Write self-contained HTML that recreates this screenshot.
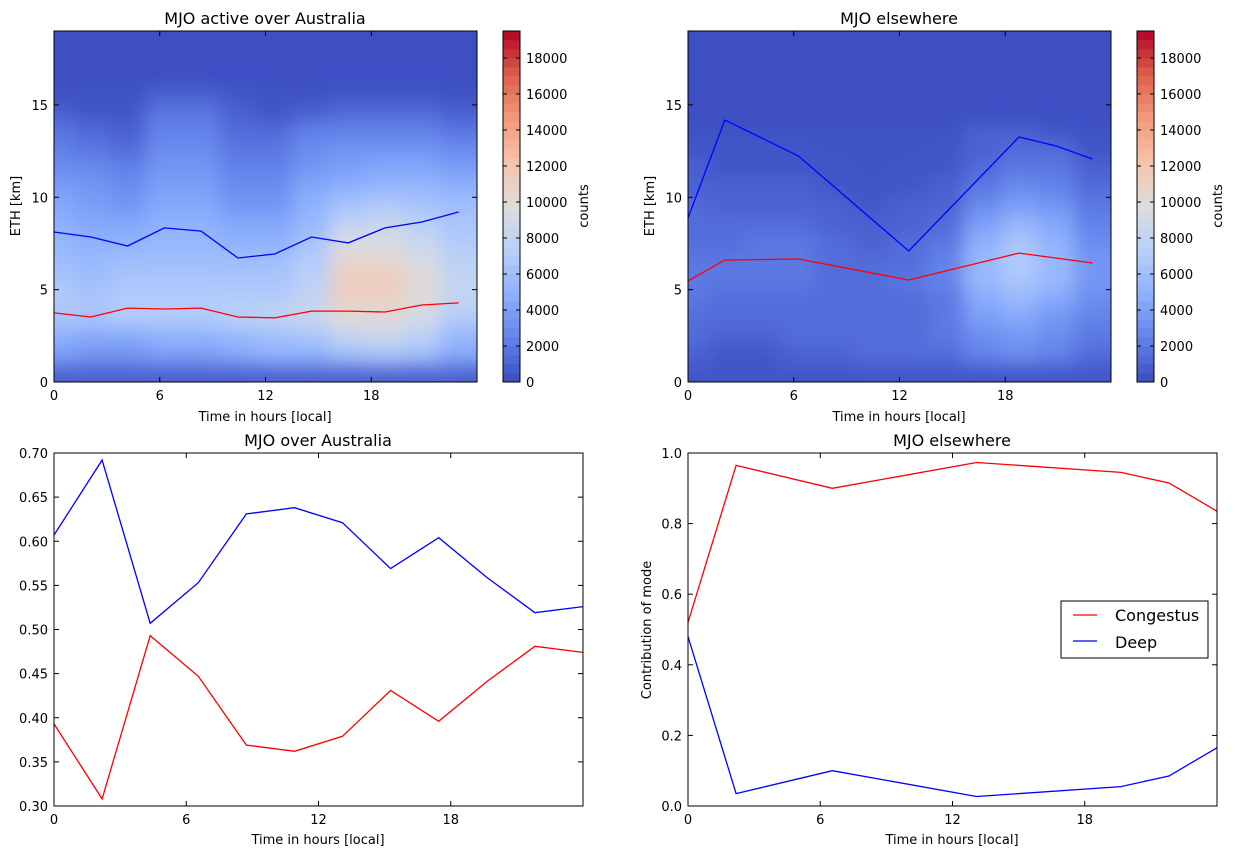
<!DOCTYPE html>
<html><head><meta charset="utf-8">
<style>
body{margin:0;background:#fff;}
svg{display:block;font-family:"DejaVu Sans","Liberation Sans",sans-serif;}
</style></head>
<body>
<svg id="fig" width="1235" height="856" viewBox="0 0 1235 856">
<defs>
<filter id="blur" x="-10%" y="-10%" width="120%" height="120%"><feGaussianBlur stdDeviation="9"/></filter>
<clipPath id="clipL"><rect x="54" y="31" width="423" height="351"/></clipPath>
<clipPath id="clipR"><rect x="688" y="31" width="423" height="351"/></clipPath>
</defs>
</svg>
<script>
// ---- data ----
const hoursTop = [0,2,4,6,8,10,12,14,16,18,20,22];
const ausDeepETH = [8.12,7.85,7.36,8.34,8.17,6.71,6.93,7.85,7.53,8.34,8.66,9.2];
const ausCongETH = [3.74,3.52,4.0,3.95,4.0,3.52,3.47,3.84,3.84,3.79,4.17,4.28];
const elseHours = [0,2,6,12,18,20,22];
const elseDeepETH = [8.88,14.18,12.24,7.09,13.26,12.78,12.07];
const elseCongETH = [5.47,6.6,6.66,5.52,6.98,6.71,6.44];
const ausDeepFrac = [0.607,0.692,0.507,0.553,0.631,0.638,0.621,0.569,0.604,0.559,0.519,0.526];
const ausCongFrac = [0.393,0.308,0.493,0.447,0.369,0.362,0.379,0.431,0.396,0.441,0.481,0.474];
const elseCongFrac = [0.52,0.965,0.90,0.973,0.945,0.915,0.835];
const elseDeepFrac = [0.48,0.035,0.10,0.027,0.055,0.085,0.165];
const hourTickLabels = ["0","6","12","18"];
const ethTicks = [0,5,10,15];
const cbTicks = [0,2000,4000,6000,8000,10000,12000,14000,16000,18000];
const fracTicksL = [0.30,0.35,0.40,0.45,0.50,0.55,0.60,0.65,0.70];
const fracTicksR = [0.0,0.2,0.4,0.6,0.8,1.0];
// counts in thousands, rows bottom (0-1 km) to top
const ausCounts = [
[1,1,1,1,1,1,1,1,1,1,1,1],
[4,3.5,3.5,4,4,4.5,5,5,6,6.5,6,4.5],
[5,4.5,4.5,5,5,5.5,6,6.5,8,8.5,7.5,5.5],
[6.5,6.5,7,7,7,7.5,8,8.5,10,10,9,7],
[7,6.5,7,7,7,7,7,8,11,11,10,8],
[6.5,6,6.5,6.5,6.5,6.5,6.5,7.5,11.5,11.5,10,8],
[6,5.5,6,6,6,6,6,7,10.5,10.5,9.5,7.5],
[5.5,5,5,5.5,5.5,5,5,6.5,9.5,9.5,8.5,7],
[5,4.5,4.5,5,5,4.5,4.5,5.5,8,8.5,7.5,6.5],
[4.5,4,3.5,4.5,4.5,3.5,3.5,5,6.5,7,6.5,6],
[4,3.5,3,4,4,3,3,4.5,5,5.5,5.5,5],
[3,3,2.5,3.5,3.5,2.5,2.5,3.5,4,4.5,4.5,4],
[2.5,2,1.5,3,3,2,2,3,3.5,3.5,3.5,3],
[2,1.5,1,2.5,2.5,1.5,1.5,2.5,2.5,2.5,2.5,2],
[1,0.5,0.5,2,2,1,0.5,1,1.5,1.5,1.5,1],
[0.3,0.3,0.3,1,1,0.5,0.3,0.3,0.5,0.5,0.5,0.3],
[0.2,0.2,0.2,0.2,0.2,0.2,0.2,0.2,0.2,0.2,0.2,0.2],
[0.2,0.2,0.2,0.2,0.2,0.2,0.2,0.2,0.2,0.2,0.2,0.2],
[0.2,0.2,0.2,0.2,0.2,0.2,0.2,0.2,0.2,0.2,0.2,0.2]];
const elseCounts = [
[0.5,0.5,0.5,0.5,0.5,0.5,0.5,0.5,0.5,0.5,0.5,0.5],
[1,0.5,0.5,1,1,1.5,1.5,1.5,2.5,3,2.5,1.5],
[1.5,1,1,1.5,1.5,1.5,1.5,2,3,3.5,3,2],
[1.5,1.5,1.5,1.5,1.5,1.5,1.5,2,4,4.5,3.5,2.5],
[2,1.5,1.5,1.5,1.5,1.5,1.5,2,4.5,5.5,4.5,3],
[2,2,2,2,1.5,1.5,2,2.5,5.5,6.5,5.5,3.5],
[2,2,2,2,1.5,1.5,1.5,2.5,5.5,7,5.5,3.5],
[1.5,1.5,2,2,1.5,1,1.5,2,5,6.5,5,3],
[1.5,1.5,1.5,1.5,1,1,1,1.5,4,5.5,4.5,2.5],
[1.5,1,1,1,1,0.5,1,1,3,4,3.5,2],
[1,1,1,1,0.5,0.5,0.5,1,2,3,2.5,1.5],
[1,0.5,0.5,0.5,0.5,0.3,0.5,0.5,1.5,2,2,1],
[0.5,0.5,0.5,0.5,0.3,0.3,0.3,0.5,1,1.5,1.5,0.5],
[0.3,0.3,0.3,0.3,0.3,0.3,0.3,0.3,1,1,0.5,0.3],
[0.2,0.2,0.2,0.2,0.2,0.2,0.2,0.2,0.2,0.2,0.2,0.2],
[0.2,0.2,0.2,0.2,0.2,0.2,0.2,0.2,0.2,0.2,0.2,0.2],
[0.2,0.2,0.2,0.2,0.2,0.2,0.2,0.2,0.2,0.2,0.2,0.2],
[0.2,0.2,0.2,0.2,0.2,0.2,0.2,0.2,0.2,0.2,0.2,0.2],
[0.2,0.2,0.2,0.2,0.2,0.2,0.2,0.2,0.2,0.2,0.2,0.2]];

// ---- helpers ----
const NS="http://www.w3.org/2000/svg";
const svg=document.getElementById('fig');
function mk(tag,attrs,parent){const e=document.createElementNS(NS,tag);for(const k in attrs)e.setAttribute(k,attrs[k]);(parent||svg).appendChild(e);return e;}
const cmapStops=[[59,76,192],[98,130,234],[141,176,254],[184,208,249],[221,221,221],[245,196,173],[244,154,123],[222,96,77],[180,4,38]];
function cmap(t){t=Math.max(0,Math.min(1,t));const p=t*8;const i=Math.min(7,Math.floor(p));const f=p-i;const a=cmapStops[i],b=cmapStops[i+1];
return `rgb(${Math.round(a[0]+(b[0]-a[0])*f)},${Math.round(a[1]+(b[1]-a[1])*f)},${Math.round(a[2]+(b[2]-a[2])*f)})`;}
const CMAX=19500;

function text(x,y,s,opt,name){const t=mk('text',Object.assign({x:x,y:y,'font-size':13,fill:'#000'},opt||{}));t.textContent=s;

return t;}

function axesFrame(ax,name){
const r=mk('rect',{x:ax.x0,y:ax.y0,width:ax.x1-ax.x0,height:ax.y1-ax.y0,fill:'none',stroke:'#000','stroke-width':1});

}

function hourTicks(ax,xs){ // xs: tick data positions
xs.forEach((v,i)=>{const x=ax.sx(v);
mk('line',{x1:x,x2:x,y1:ax.y1,y2:ax.y1-5,stroke:'#000'});
mk('line',{x1:x,x2:x,y1:ax.y0,y2:ax.y0+5,stroke:'#000'});
text(x,ax.y1+18,hourTickLabels[i],{'text-anchor':'middle'},'x-tick-label');});}
function yTicks(ax,vals,fmt){vals.forEach(v=>{const y=ax.sy(v);
mk('line',{x1:ax.x0,x2:ax.x0+5,y1:y,y2:y,stroke:'#000'});
mk('line',{x1:ax.x1,x2:ax.x1-5,y1:y,y2:y,stroke:'#000'});
text(ax.x0-6,y+5,fmt(v),{'text-anchor':'end'},'y-tick-label');});}

function line(ax,xs,ys,color,name){const d=xs.map((x,i)=>(i?'L':'M')+ax.sx(x).toFixed(1)+','+ax.sy(ys[i]).toFixed(1)).join('');
const p=mk('path',{d:d,fill:'none',stroke:color,'stroke-width':1.3});

return p;}

function heatPanel(ax,counts,clip,name){
const g=mk('g',{'clip-path':`url(#${clip})`});


mk('rect',{x:ax.x0,y:ax.y0,width:ax.x1-ax.x0,height:ax.y1-ax.y0,fill:cmap(0.01)},g);
const inner=mk('g',{filter:'url(#blur)'},g);
const nr=counts.length,nc=hoursTop.length;
for(let r=0;r<nr;r++)for(let c=0;c<nc;c++){
 let xa=ax.sx(hoursTop[c]-1),xb=ax.sx(hoursTop[c]+1);
 if(c===0)xa-=30; if(c===nc-1)xb+=30;
 let ya=ax.sy(r+1),yb=ax.sy(r);
 if(r===nr-1)ya-=30;
 if(r===0)yb+=30;
 const cell=mk('rect',{x:xa,y:ya,width:xb-xa+0.5,height:yb-ya+0.5,fill:cmap(counts[r][c]*1000/CMAX)},inner);
 
 
}}

function colorbar(x0,name){
const y0=31,y1=382,w=17;const sy=v=>y1-(v/CMAX)*(y1-y0);
const g=mk('g',{});


for(let v=0;v<CMAX;v+=500){mk('rect',{x:x0,y:sy(v+500),width:w,height:sy(v)-sy(v+500)+0.4,fill:cmap((v+250)/CMAX)},g);}
mk('rect',{x:x0,y:y0,width:w,height:y1-y0,fill:'none',stroke:'#000'},g);
cbTicks.forEach(v=>{const y=sy(v);mk('line',{x1:x0+w,x2:x0+w-4,y1:y,y2:y,stroke:'#000'},g);mk('line',{x1:x0,x2:x0+4,y1:y,y2:y,stroke:'#000'},g);
text(x0+w+6,y+5,String(v),{},'colorbar-tick-label');});
text(0,0,'counts',{transform:`translate(${x0+w+68},206) rotate(-90)`,'text-anchor':'middle'},'colorbar-label');}

// ---- top-left ----
const axTL={x0:54,x1:477,y0:31,y1:382};axTL.sx=v=>axTL.x0+v/23*(axTL.x1-axTL.x0);axTL.sy=v=>axTL.y1-v/19*(axTL.y1-axTL.y0);
heatPanel(axTL,ausCounts,'clipL','heatmap-australia');
line(axTL,hoursTop,ausDeepETH,'#0000ff','deep-eth-line-australia');
line(axTL,hoursTop,ausCongETH,'#ff0000','congestus-eth-line-australia');
axesFrame(axTL,'axes-top-left');
hourTicks(axTL,[0,5.75,11.5,17.25]);
yTicks(axTL,ethTicks,v=>String(v));
text(265,24,'MJO active over Australia',{'font-size':16,'text-anchor':'middle'},'title-top-left');
text(265,421,'Time in hours [local]',{'text-anchor':'middle'},'x-axis-title-top-left');
text(0,0,'ETH [km]',{transform:'translate(20,206) rotate(-90)','text-anchor':'middle'},'y-axis-title-top-left');
colorbar(503,'colorbar-left');

// ---- top-right ----
const axTR={x0:688,x1:1111,y0:31,y1:382};axTR.sx=v=>axTR.x0+v/23*(axTR.x1-axTR.x0);axTR.sy=v=>axTR.y1-v/19*(axTR.y1-axTR.y0);
heatPanel(axTR,elseCounts,'clipR','heatmap-elsewhere');
line(axTR,elseHours,elseDeepETH,'#0000ff','deep-eth-line-elsewhere');
line(axTR,elseHours,elseCongETH,'#ff0000','congestus-eth-line-elsewhere');
axesFrame(axTR,'axes-top-right');
hourTicks(axTR,[0,5.75,11.5,17.25]);
yTicks(axTR,ethTicks,v=>String(v));
text(899,24,'MJO elsewhere',{'font-size':16,'text-anchor':'middle'},'title-top-right');
text(899,421,'Time in hours [local]',{'text-anchor':'middle'},'x-axis-title-top-right');
text(0,0,'ETH [km]',{transform:'translate(654,206) rotate(-90)','text-anchor':'middle'},'y-axis-title-top-right');
colorbar(1137,'colorbar-right');

// ---- bottom-left ----
const axBL={x0:54,x1:583,y0:453,y1:806};axBL.sx=v=>axBL.x0+v/22*(axBL.x1-axBL.x0);axBL.sy=v=>axBL.y1-(v-0.3)/0.4*(axBL.y1-axBL.y0);
line(axBL,hoursTop,ausDeepFrac,'#0000ff','deep-fraction-line-australia');
line(axBL,hoursTop,ausCongFrac,'#ff0000','congestus-fraction-line-australia');
axesFrame(axBL,'axes-bottom-left');
hourTicks(axBL,[0,5.5,11,16.5]);
yTicks(axBL,fracTicksL,v=>v.toFixed(2));
text(318,446,'MJO over Australia',{'font-size':16,'text-anchor':'middle'},'title-bottom-left');
text(318,844,'Time in hours [local]',{'text-anchor':'middle'},'x-axis-title-bottom-left');

// ---- bottom-right ----
const axBR={x0:688,x1:1217,y0:453,y1:806};axBR.sx=v=>axBR.x0+v/22*(axBR.x1-axBR.x0);axBR.sy=v=>axBR.y1-v*(axBR.y1-axBR.y0);
line(axBR,elseHours,elseCongFrac,'#ff0000','congestus-fraction-line-elsewhere');
line(axBR,elseHours,elseDeepFrac,'#0000ff','deep-fraction-line-elsewhere');
axesFrame(axBR,'axes-bottom-right');
hourTicks(axBR,[0,5.5,11,16.5]);
yTicks(axBR,fracTicksR,v=>v.toFixed(1));
text(952,446,'MJO elsewhere',{'font-size':16,'text-anchor':'middle'},'title-bottom-right');
text(952,844,'Time in hours [local]',{'text-anchor':'middle'},'x-axis-title-bottom-right');
text(0,0,'Contribution of mode',{transform:'translate(651,630) rotate(-90)','text-anchor':'middle'},'y-axis-title-bottom-right');

// legend
const lg=mk('g',{});


mk('rect',{x:1061,y:601,width:147,height:57,fill:'#fff',stroke:'#000'},lg);
mk('line',{x1:1073,x2:1097,y1:615,y2:615,stroke:'#ff0000','stroke-width':1.3},lg);
mk('line',{x1:1073,x2:1097,y1:641,y2:641,stroke:'#0000ff','stroke-width':1.3},lg);
const t1=text(1115,621,'Congestus',{'font-size':16},'legend-entry-congestus');lg.appendChild(t1);
const t2=text(1115,648,'Deep',{'font-size':16},'legend-entry-deep');lg.appendChild(t2);
</script>
</body></html>
